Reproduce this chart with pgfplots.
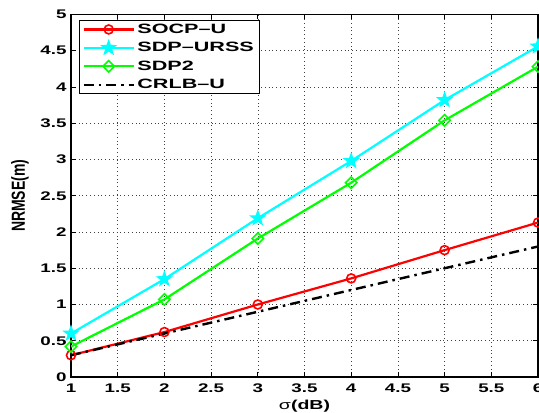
\documentclass[border=0pt]{standalone}
\usepackage{fontspec}
\setmainfont{Liberation Sans}[FakeStretch=1.5]
\newfontfamily\plainfont{Liberation Sans}
\newfontfamily\legfont{Liberation Sans}[FakeStretch=1.6]
\usepackage{pgfplots}
\pgfplotsset{compat=1.18}
\definecolor{mred}{RGB}{255,0,0}
\definecolor{mcyan}{RGB}{0,255,255}
\definecolor{mgreen}{RGB}{0,255,0}
\pgfdeclareplotmark{pentagram}{%
  \pgfpathmoveto{\pgfpointpolar{90}{\pgfplotmarksize}}%
  \pgfpathlineto{\pgfpointpolar{126}{0.40\pgfplotmarksize}}%
  \pgfpathlineto{\pgfpointpolar{162}{\pgfplotmarksize}}%
  \pgfpathlineto{\pgfpointpolar{198}{0.40\pgfplotmarksize}}%
  \pgfpathlineto{\pgfpointpolar{234}{\pgfplotmarksize}}%
  \pgfpathlineto{\pgfpointpolar{270}{0.40\pgfplotmarksize}}%
  \pgfpathlineto{\pgfpointpolar{306}{\pgfplotmarksize}}%
  \pgfpathlineto{\pgfpointpolar{342}{0.40\pgfplotmarksize}}%
  \pgfpathlineto{\pgfpointpolar{18}{\pgfplotmarksize}}%
  \pgfpathlineto{\pgfpointpolar{54}{0.40\pgfplotmarksize}}%
  \pgfpathclose
  \pgfusepathqfillstroke}
\begin{document}
\begin{tikzpicture}
\begin{axis}[name=ax, scale only axis, width=467pt, height=362.5pt,
  xmin=1, xmax=6, ymin=0, ymax=5,
  xtick={1,1.5,2,2.5,3,3.5,4,4.5,5,5.5,6},
  ytick={0,0.5,1,1.5,2,2.5,3,3.5,4,4.5,5},
  /pgf/number format/assume math mode=true,
  tick align=inside, major tick length=5pt,
  every tick/.style={black, line width=0.8pt},
  axis line style={line width=1.3pt},
  grid=major,
  grid style={black!75, line width=0.6pt, dash pattern=on 0.8pt off 3pt},
  tick label style={font=\fontsize{12.5}{14}\selectfont\bfseries},
  xticklabel style={yshift=-3pt},
  yticklabel style={xshift=-1pt},
  xlabel={{\fontsize{13}{14}\selectfont σ\bfseries(dB)}},
  xlabel style={at={(axis description cs:0.5,0)}, anchor=north, yshift=-20pt},
  ylabel={{\plainfont\fontsize{14}{16}\selectfont\bfseries NRMSE(m)}},
  ylabel style={at={(axis description cs:0,0.5)}, anchor=center, yshift=51pt, yscale=1.35},
  legend style={at={(axis description cs:0,1)}, anchor=north west,
    xshift=8pt, yshift=-5.5pt, draw=black, line width=1pt,
    inner xsep=3pt, inner ysep=1pt, row sep=2.5pt,
    nodes={inner sep=2.5pt},
    font=\legfont\fontsize{13.5}{15}\selectfont\bfseries},
  legend cell align=left,
  legend image code/.code={\draw[mark repeat=2,mark phase=2,#1] plot coordinates {(0pt,0pt) (25pt,0pt) (50pt,0pt)};},
]
\addplot[mred, line width=2.2pt, mark=o, mark size=4.5pt, mark options={solid, line width=1.6pt}]
  coordinates {(1,0.30) (2,0.62) (3,1.00) (4,1.36) (5,1.75) (6,2.13)};
\addlegendentry{SOCP–U}
\addplot[mcyan, line width=2.2pt, mark=pentagram, mark size=7pt, mark options={solid, line width=1.4pt, fill=mcyan}]
  coordinates {(1,0.60) (2,1.35) (3,2.19) (4,2.98) (5,3.82) (6,4.56)};
\addlegendentry{SDP–URSS}
\addplot[mgreen, line width=2.2pt, mark=square, mark size=4pt, mark options={solid, rotate=45, line width=1.6pt}]
  coordinates {(1,0.42) (2,1.07) (3,1.91) (4,2.68) (5,3.54) (6,4.28)};
\addlegendentry{SDP2}
\addplot[black, line width=2.4pt, dash pattern=on 10pt off 5pt on 2.5pt off 5pt]
  coordinates {(1,0.30) (2,0.60) (3,0.90) (4,1.20) (5,1.50) (6,1.80)};
\addlegendentry{CRLB–U}
\end{axis}
\pgfresetboundingbox
\path[use as bounding box] ([xshift=-71pt,yshift=-35pt]ax.south west) rectangle ([xshift=1pt,yshift=14.5pt]ax.north east);
\end{tikzpicture}
\end{document}
